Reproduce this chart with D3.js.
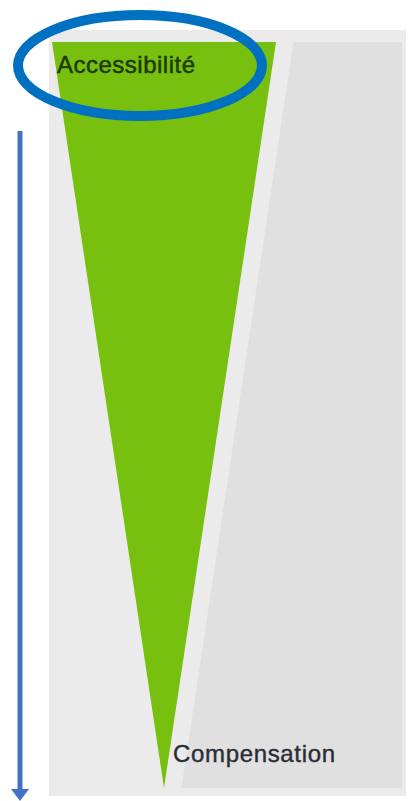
<!DOCTYPE html>
<html>
<head>
<meta charset="utf-8">
<script src="https://cdn.jsdelivr.net/npm/d3@7"></script>
<style>
  body { margin: 0; background: #fff; }
  svg { display: block; }
</style>
</head>
<body>
<div id="chart"></div>
<script>
// data: two ends of the scale, top -> bottom
var steps = [0, 1];
var labels = ["Accessibilité", "Compensation"];
// width of the green (accessibility) wedge, centred at 32
var accessibilite = [64, 0];
// width of the grey (compensation) wedge, anchored on the right
var compensation = [31, 63];

var width = 409, height = 801;

var svg = d3.select("#chart").append("svg")
    .attr("width", width)
    .attr("height", height);

// Scales
var x = d3.scaleLinear()
  .domain([0, 100])
  .range([52, 402]);

var y = d3.scaleLinear()
  .domain([0, 1])
  .range([42, 788]);

// Panel
svg.append("rect")
  .attr("x", 49)
  .attr("y", 30)
  .attr("width", 357)
  .attr("height", 766)
  .attr("fill", "#ebebeb");

// Compensation wedge
var greyPts = steps.map(function(s, i){ return [x(100 - compensation[i]), y(s)]; });
greyPts.push([x(100), y(1)], [x(100), y(0)]);

svg.append("polygon")
  .attr("points", greyPts.map(function(p){ return p.join(","); }).join(" "))
  .attr("fill", "#e0e0e0");

// Accessibility wedge
var centre = 32;
var greenPts = steps.map(function(s, i){ return [x(centre - accessibilite[i] / 2), y(s)]; })
  .concat(steps.slice().reverse().map(function(s, i){
    var k = steps.length - 1 - i;
    return [x(centre + accessibilite[k] / 2), y(s)];
  }));

svg.append("polygon")
  .attr("points", greenPts.map(function(p){ return p.join(","); }).join(" "))
  .attr("fill", "#77c00f");

// Labels
svg.append("text")
  .attr("x", 57)
  .attr("y", 73)
  .attr("font-family", "Liberation Sans, Arial, sans-serif")
  .attr("font-size", 24)
  .attr("fill", "#1c3a02")
  .attr("stroke", "#1c3a02")
  .attr("stroke-width", 0.5)
  .attr("textLength", 138)
  .text(labels[0]);

svg.append("text")
  .attr("x", 173)
  .attr("y", 762)
  .attr("font-family", "Liberation Sans, Arial, sans-serif")
  .attr("font-size", 24)
  .attr("fill", "#2c2c36")
  .attr("stroke", "#2c2c36")
  .attr("stroke-width", 0.4)
  .attr("textLength", 162)
  .text(labels[1]);

// Highlight ellipse
svg.append("ellipse")
  .attr("cx", 140)
  .attr("cy", 65.5)
  .attr("rx", 122)
  .attr("ry", 50.5)
  .attr("fill", "none")
  .attr("stroke", "#0070c0")
  .attr("stroke-width", 10);

// Arrow
svg.append("line")
  .attr("x1", 20).attr("y1", 131)
  .attr("x2", 20).attr("y2", 790)
  .attr("stroke", "#4472c4")
  .attr("stroke-width", 5);

svg.append("path")
  .attr("d", "M11,789 L29,789 L20,801 Z")
  .attr("fill", "#4472c4");
</script>
</body>
</html>
